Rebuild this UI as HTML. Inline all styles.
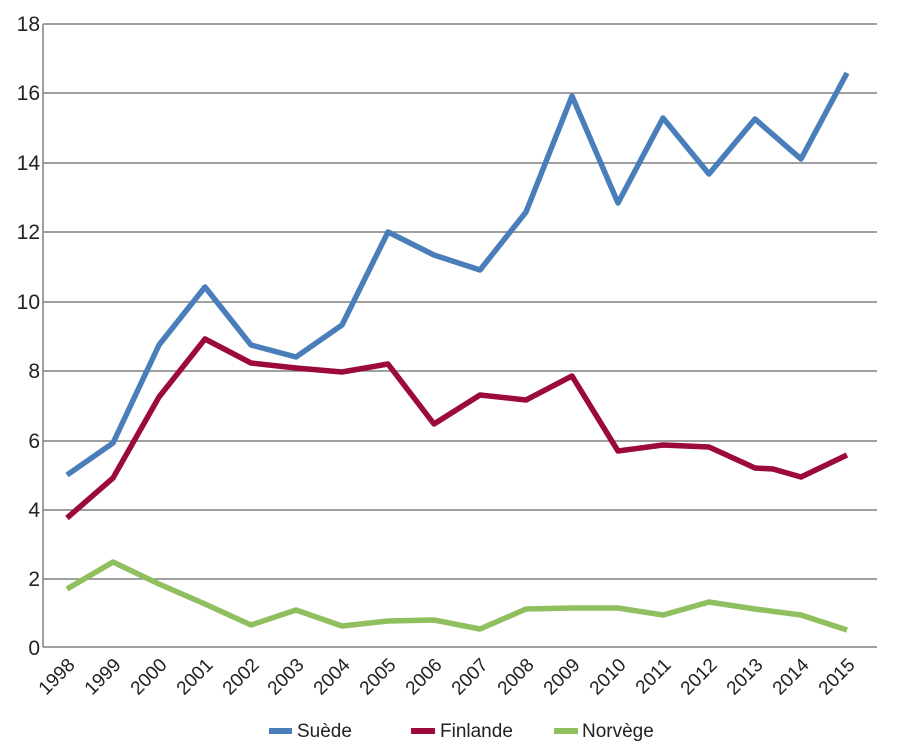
<!DOCTYPE html>
<html><head><meta charset="utf-8"><style>
body{margin:0;background:#fff;}
svg text{font-family:"Liberation Sans Narrow","Liberation Sans",sans-serif;fill:#222;}
</style></head><body>
<svg width="902" height="746" xmlns="http://www.w3.org/2000/svg">
<g stroke="#808080" stroke-width="1.5">
<line x1="43" y1="24" x2="877" y2="24"/>
<line x1="43" y1="93" x2="877" y2="93"/>
<line x1="43" y1="163" x2="877" y2="163"/>
<line x1="43" y1="232" x2="877" y2="232"/>
<line x1="43" y1="302" x2="877" y2="302"/>
<line x1="43" y1="371" x2="877" y2="371"/>
<line x1="43" y1="441" x2="877" y2="441"/>
<line x1="43" y1="510" x2="877" y2="510"/>
<line x1="43" y1="579" x2="877" y2="579"/>
<line x1="43" y1="647" x2="877" y2="647"/>
<line x1="43" y1="24" x2="43" y2="647"/>
</g>
<g font-size="21" text-anchor="end">
<text x="40" y="31">18</text><text x="40" y="100">16</text><text x="40" y="170">14</text>
<text x="40" y="239">12</text><text x="40" y="309">10</text><text x="40" y="378">8</text>
<text x="40" y="448">6</text><text x="40" y="517">4</text><text x="40" y="586">2</text>
<text x="40" y="655">0</text>
</g>
<g font-size="19" text-anchor="end">
<text transform="translate(76,666) rotate(-45)">1998</text>
<text transform="translate(122,666) rotate(-45)">1999</text>
<text transform="translate(168,666) rotate(-45)">2000</text>
<text transform="translate(214,666) rotate(-45)">2001</text>
<text transform="translate(260,666) rotate(-45)">2002</text>
<text transform="translate(305,666) rotate(-45)">2003</text>
<text transform="translate(351,666) rotate(-45)">2004</text>
<text transform="translate(397,666) rotate(-45)">2005</text>
<text transform="translate(443,666) rotate(-45)">2006</text>
<text transform="translate(489,666) rotate(-45)">2007</text>
<text transform="translate(535,666) rotate(-45)">2008</text>
<text transform="translate(581,666) rotate(-45)">2009</text>
<text transform="translate(627,666) rotate(-45)">2010</text>
<text transform="translate(672,666) rotate(-45)">2011</text>
<text transform="translate(718,666) rotate(-45)">2012</text>
<text transform="translate(764,666) rotate(-45)">2013</text>
<text transform="translate(810,666) rotate(-45)">2014</text>
<text transform="translate(856,666) rotate(-45)">2015</text>
</g>
<g fill="none" stroke-width="5.5" stroke-linejoin="round">
<polyline stroke="#4a7ebb" points="67,475 113,443 159,345 205,287 251,345 296,357 342,325 388,232 434,255 480,270 526,212 572,96 618,203 663,118 709,174 755,119 801,159 847,73"/>
<polyline stroke="#9b0a3a" points="67,518 113,478 159,397 205,339 251,363 296,368 342,372 388,364 434,424 480,395 526,400 572,376 618,451 663,445 709,447 755,468 773,469 801,477 847,455"/>
<polyline stroke="#8fbf5f" points="67,589 113,562 159,584 205,604 251,625 296,610 342,626 388,621 434,620 480,629 526,609 572,608 618,608 663,615 709,602 755,609 801,615 847,630"/>
</g>
<g font-size="19">
<rect x="269" y="728" width="23" height="6" fill="#4a7ebb"/><text x="297" y="737">Suède</text>
<rect x="411" y="728" width="24" height="6" fill="#9b0a3a"/><text x="440" y="737">Finlande</text>
<rect x="554" y="728" width="24" height="6" fill="#8fbf5f"/><text x="582" y="737">Norvège</text>
</g>
</svg>
</body></html>
